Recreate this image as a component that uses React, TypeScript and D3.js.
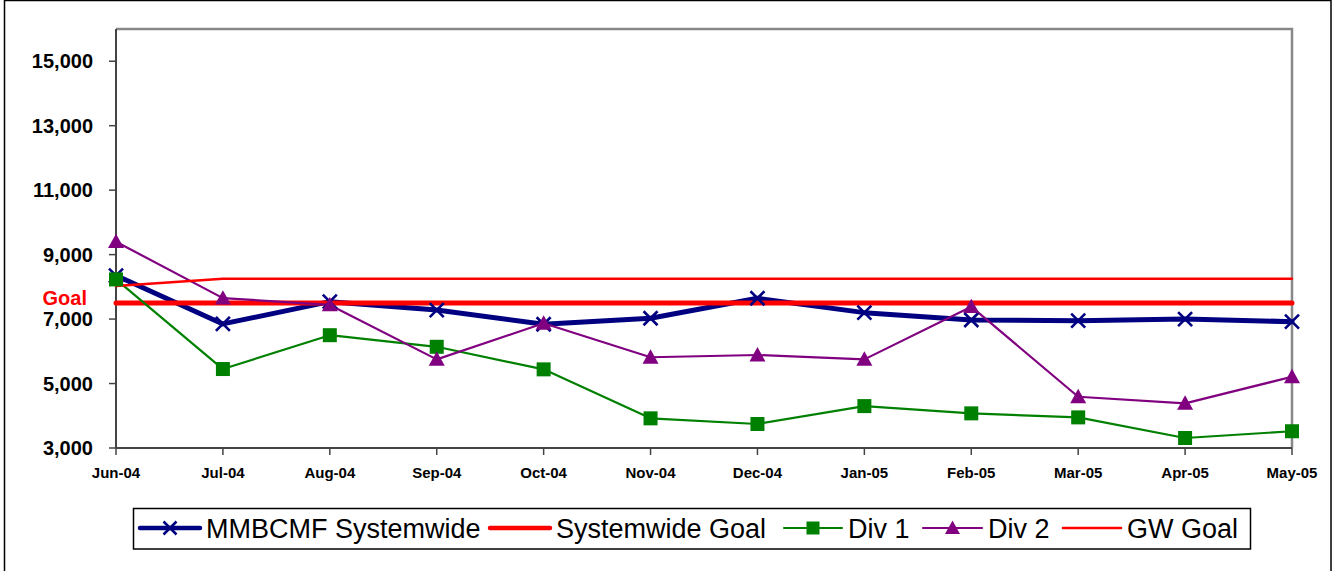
import React from "react";
import * as d3 from "d3";

const months = ["Jun-04", "Jul-04", "Aug-04", "Sep-04", "Oct-04", "Nov-04", "Dec-04", "Jan-05", "Feb-05", "Mar-05", "Apr-05", "May-05"];
const mmbcmf = [8350, 6850, 7540, 7280, 6840, 7025, 7645, 7200, 6970, 6950, 7000, 6920];
const systemGoal = [7500, 7500, 7500, 7500, 7500, 7500, 7500, 7500, 7500, 7500, 7500, 7500];
const div1 = [8230, 5450, 6500, 6140, 5440, 3920, 3745, 4300, 4075, 3950, 3310, 3520];
const div2 = [9400, 7650, 7440, 5750, 6870, 5815, 5885, 5750, 7385, 4590, 4385, 5210];
const gwGoal = [8030, 8250, 8250, 8250, 8250, 8250, 8250, 8250, 8250, 8250, 8250, 8250];
const yTicks = [3000, 5000, 7000, 9000, 11000, 13000, 15000];
const goalLabel = "Goal";
const goalLabelValue = 7440;

const W = 1336, H = 571;
const L = 116, R = 1292, T = 29, B = 448;

const FONT = "Liberation Sans, Arial, sans-serif";

type Series = { name: string; values: number[]; color: string; width: number; marker: "x" | "square" | "triangle" | null };

const series: Series[] = [
  { name: "MMBCMF Systemwide", values: mmbcmf, color: "#000080", width: 5, marker: "x" },
  { name: "Systemwide Goal", values: systemGoal, color: "#FF0000", width: 5, marker: null },
  { name: "Div 1", values: div1, color: "#008000", width: 2.2, marker: "square" },
  { name: "Div 2", values: div2, color: "#800080", width: 2.2, marker: "triangle" },
  { name: "GW Goal", values: gwGoal, color: "#FF0000", width: 2.5, marker: null },
];

function Marker({ kind, x, y, color, s }: { kind: string; x: number; y: number; color: string; s: number }) {
  if (kind === "x") {
    const h = s / 2;
    return (
      <path d={`M${x - h},${y - h}L${x + h},${y + h}M${x - h},${y + h}L${x + h},${y - h}`} stroke={color} strokeWidth={2.6} fill="none" />
    );
  }
  if (kind === "square") {
    const h = s / 2;
    return <rect x={x - h} y={y - h} width={s} height={s} fill={color} />;
  }
  if (kind === "triangle") {
    const h = (s + 2) / 2;
    return <path d={`M${x},${y - h}L${x + h},${y + h * 0.8}L${x - h},${y + h * 0.8}Z`} fill={color} />;
  }
  return null;
}

export default function App() {
  const x = d3.scalePoint<string>().domain(months).range([L, R]);
  const y = d3.scaleLinear().domain([3000, 16000]).range([B, T]);
  const fmt = d3.format(",");
  const line = (vals: number[]) =>
    d3.line<number>().x((_, i) => x(months[i]) as number).y((v) => y(v))(vals) || "";

  const legendItems = [
    { s: series[0], lx1: 140, lx2: 200, tx: 206 },
    { s: series[1], lx1: 490, lx2: 550, tx: 556 },
    { s: series[2], lx1: 784, lx2: 842, tx: 848 },
    { s: series[3], lx1: 923, lx2: 982, tx: 988 },
    { s: series[4], lx1: 1063, lx2: 1121, tx: 1127 },
  ];
  const legendY = 528;

  return (
    <svg width={W} height={H} style={{ position: "absolute", left: 0, top: 0, background: "#fff" }} fontFamily={FONT}>
      <rect x={0} y={0} width={W} height={H} fill="#fff" />
      <rect x={4.5} y={0.5} width={1326.5} height={H + 10} fill="none" stroke="#000" strokeWidth={1.5} />

      {/* plot frame */}
      <path d={`M${L},${T}H${R}V${B}`} fill="none" stroke="#888" strokeWidth={2.5} />
      <line x1={L} y1={T} x2={L} y2={B} stroke="#444" strokeWidth={2} />
      <line x1={L} y1={B} x2={R} y2={B} stroke="#444" strokeWidth={2} />

      {/* y ticks */}
      {yTicks.map((t) => (
        <g key={t}>
          <line x1={L - 7} x2={L} y1={y(t)} y2={y(t)} stroke="#444" strokeWidth={1.5} />
          <text x={93} y={y(t)} dy="0.36em" textAnchor="end" fontSize={20} fontWeight="bold" fill="#000">
            {fmt(t)}
          </text>
        </g>
      ))}
      <text x={87} y={y(goalLabelValue)} textAnchor="end" fontSize={20} fontWeight="bold" fill="#FF0000">
        {goalLabel}
      </text>

      {/* x ticks */}
      {months.map((m) => (
        <g key={m}>
          <line x1={x(m)} x2={x(m)} y1={B} y2={B + 7} stroke="#444" strokeWidth={1.5} />
          <text x={x(m)} y={478} textAnchor="middle" fontSize={15} fontWeight="bold" fill="#000">
            {m}
          </text>
        </g>
      ))}

      {/* lines */}
      {series.map((s) => (
        <path key={s.name} d={line(s.values)} fill="none" stroke={s.color} strokeWidth={s.width} strokeLinejoin="round" strokeLinecap="round" />
      ))}
      {/* markers */}
      {series.map((s) =>
        s.marker
          ? s.values.map((v, i) => (
              <Marker key={s.name + i} kind={s.marker as string} x={x(months[i]) as number} y={y(v)} color={s.color} s={14} />
            ))
          : null
      )}

      {/* legend */}
      <rect x={133.5} y={508.5} width={1117} height={40.5} fill="#fff" stroke="#000" strokeWidth={1.5} />
      {legendItems.map(({ s, lx1, lx2, tx }) => (
        <g key={s.name}>
          <line x1={lx1} x2={lx2} y1={legendY} y2={legendY} stroke={s.color} strokeWidth={s.width === 5 ? 4.5 : s.width} strokeLinecap="round" />
          {s.marker ? <Marker kind={s.marker} x={(lx1 + lx2) / 2} y={legendY} color={s.color} s={13} /> : null}
          <text x={tx} y={legendY} dy="0.36em" fontSize={27} fill="#000">
            {s.name}
          </text>
        </g>
      ))}
    </svg>
  );
}
